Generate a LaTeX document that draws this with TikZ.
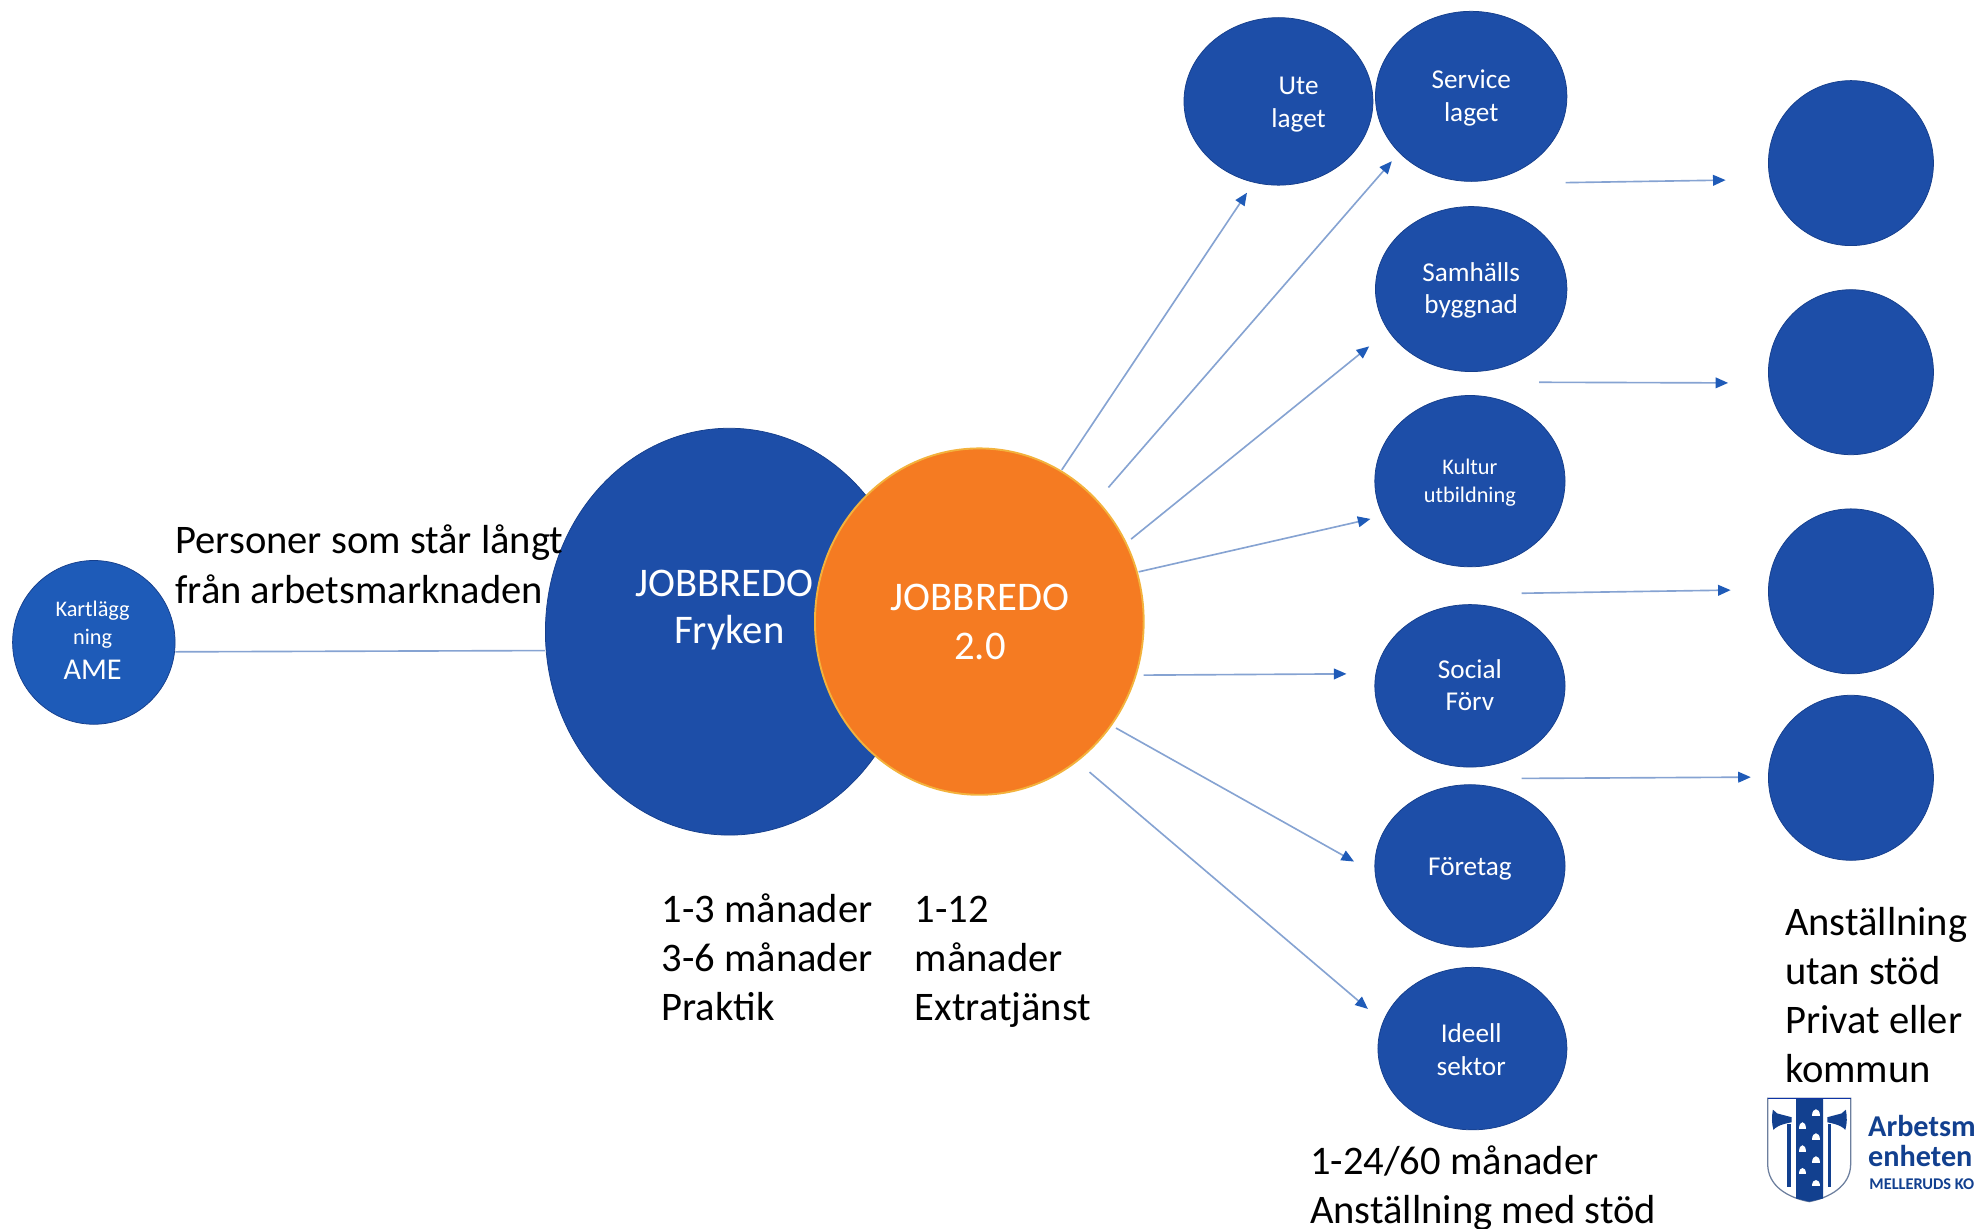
\documentclass[tikz,border=0pt]{standalone}
\usepackage{fontspec}
\setmainfont{Carlito}
\usetikzlibrary{arrows.meta,shapes.geometric}
\definecolor{blob}{HTML}{1D4EA8}
\definecolor{blobb}{HTML}{1E5BB8}
\definecolor{blobedge}{HTML}{163F8C}
\definecolor{orangeb}{HTML}{F57B22}
\definecolor{orangeedge}{HTML}{F3B23C}
\definecolor{linec}{HTML}{86A3D2}
\definecolor{tipc}{HTML}{1F5BB8}
\definecolor{logoc}{HTML}{12408F}
\tikzset{
  circ/.style={ellipse,fill=blob,draw=blobedge,line width=0.6pt,inner sep=0pt},
  ctext/.style={text=white,inner sep=0pt,align=center},
  big/.style={ctext,font=\fontsize{32.3}{39}\selectfont},
  mid/.style={ctext,font=\fontsize{21.6}{26}\selectfont},
  lab/.style={anchor=north west,inner sep=0pt,align=left,text=black,font=\fontsize{32.2}{39}\selectfont},
  line/.style={draw=linec,line width=1.3pt},
  conn/.style={line,-{Triangle[length=10pt,width=8.5pt,color=tipc]}},
  logotxt/.style={anchor=base west,inner sep=0pt,text=logoc,font=\bfseries\fontsize{24}{24}\selectfont},
}
\begin{document}
\begin{tikzpicture}[x=1pt,y=-1pt]
\useasboundingbox (0,0) rectangle (1568,975.7);
% main circles
\node[circ,fill=blobb,minimum width=129pt,minimum height=130pt] (ame) at (74.5,510) {};
\node[circ,minimum width=292pt,minimum height=323pt] (fry) at (579,501.5) {};
\node[circ,fill=orangeb,draw=orangeedge,line width=1.5pt,minimum width=261pt,minimum height=275pt] (jb) at (777.5,493.5) {};
\node[big] (jbt) at (778,494) {JOBBREDO\\2.0};
\node[big] (fryt1) at (575,463) {JOBBREDO};
\node[big] (fryt2) at (579,502) {Fryken};
\node[ctext,font=\fontsize{17.7}{22}\selectfont] (amet1) at (73.5,496) {Kartlägg\\ning};
\node[ctext,font=\fontsize{24}{26}\selectfont] (amet2) at (73.5,532) {AME};
% right column
\node[circ,minimum width=150pt,minimum height=133pt] (ute) at (1015,80.5) {};
\node[mid] (utet) at (1031,83) {Ute\\laget};
\node[circ,minimum width=152pt,minimum height=135pt] (serv) at (1168,76.5) {};
\node[mid] (servt) at (1168,77.5) {Service\\laget};
\node[circ,minimum width=152pt,minimum height=131pt] (sam) at (1168,229.5) {};
\node[mid] (samt) at (1168,230.5) {Samhälls\\byggnad};
\node[circ,minimum width=151pt,minimum height=136pt] (kul) at (1167,382) {};
\node[ctext,font=\fontsize{17.7}{22}\selectfont] (kult) at (1167,383) {Kultur\\utbildning};
\node[circ,minimum width=151pt,minimum height=129pt] (soc) at (1167,544.5) {};
\node[mid] (soct) at (1167,544) {Social\\Förv};
\node[circ,minimum width=151pt,minimum height=129pt] (for) at (1167,687.5) {};
\node[mid] (fort) at (1167,690) {Företag};
\node[circ,minimum width=150pt,minimum height=129pt] (ide) at (1169,832.5) {};
\node[mid] (idet) at (1168,833.5) {Ideell\\sektor};
% far right
\node[circ,minimum width=131pt,minimum height=131pt] (r1) at (1469.5,129.5) {};
\node[circ,minimum width=131pt,minimum height=131pt] (r2) at (1469.5,295.5) {};
\node[circ,minimum width=131pt,minimum height=131pt] (r3) at (1469.5,469.5) {};
\node[circ,minimum width=131pt,minimum height=131pt] (r4) at (1469.5,617.5) {};
% labels
\node[lab] (l1) at (139,416.8) {Personer som står långt\\från arbetsmarknaden};
\node[lab] (l2) at (525,709) {1-3 månader\\3-6 månader\\Praktik};
\node[lab] (l3) at (726,711) {1-12\\månader\\Extratjänst};
\node[lab] (l4) at (1417,720) {Anställning\\utan stöd\\Privat eller\\kommun};
\node[lab] (l5) at (1040,909.5) {1-24/60 månader\\Anställning med stöd};
% connectors
\draw[line] (ame.east |- 0,517.5) -- (fry.west |- 0,516.5);
\coordinate (a1s) at (843,373); \coordinate (a1e) at (990,153);
\coordinate (a2s) at (880,387); \coordinate (a2e) at (1105,128);
\coordinate (a3s) at (898,428); \coordinate (a3e) at (1087,275);
\coordinate (a4s) at (904,454); \coordinate (a4e) at (1088,412);
\coordinate (a5s) at (908,536); \coordinate (a5e) at (1069,535);
\coordinate (a6s) at (886,578); \coordinate (a6e) at (1075,684);
\coordinate (a7s) at (865,613); \coordinate (a7e) at (1086,801);
\coordinate (b1s) at (1243,145); \coordinate (b1e) at (1370,143);
\coordinate (b2s) at (1222,303.5); \coordinate (b2e) at (1372,304);
\coordinate (b3s) at (1208,471); \coordinate (b3e) at (1374,468.5);
\coordinate (b4s) at (1208,618); \coordinate (b4e) at (1390,617);
\foreach \n in {a1,a2,a3,a4,a5,a6,a7,b1,b2,b3,b4}{\draw[conn] (\n s) -- (\n e);}
% logo shield
\path[fill=white,draw=black!35!logoc!60!white,line width=1pt]
  (1403.4,872) -- (1469.3,872) -- (1469.3,924) .. controls (1469.3,942) and (1452,951) .. (1436.4,954) .. controls (1420,951) and (1403.4,942) .. (1403.4,924) -- cycle;
\fill[logoc] (1425.9,872) -- (1447.5,872) -- (1447.5,951.5) -- (1436.4,954) -- (1425.9,951.5) -- cycle;
\draw[logoc!80!blue,line width=1pt] (1403.4,872) -- (1469.3,872);
\fill[logoc] (1419,892) rectangle (1422,942);
\fill[logoc] (1451,892) rectangle (1454,942);
\fill[logoc] (1422.4,887) -- (1411,884) .. controls (1409.5,882.5) and (1408.5,882) .. (1407.5,881) .. controls (1406.5,887) and (1406.5,892) .. (1408,897) .. controls (1410,895) and (1412,893) .. (1422.4,891) -- cycle;
\fill[logoc] (1450.7,887) -- (1462,884) .. controls (1463.5,882.5) and (1464.5,882) .. (1465.5,881) .. controls (1466.5,887) and (1466.5,892) .. (1465,897) .. controls (1463,895) and (1461,893) .. (1450.7,891) -- cycle;
\foreach \bx/\by in {1431.1/893,1441.7/883,1441.7/901.9,1431.1/911.6,1441.7/920.4,1431.1/929.4,1441.7/938.9}{
  \fill[white] (\bx-3,\by+3) .. controls (\bx-3,\by-4) and (\bx+3,\by-4) .. (\bx+3,\by+3) -- cycle;
}
\node[logotxt] (lg1) at (1483,902.5) {Arbetsm};
\node[logotxt] (lg2) at (1483,926) {enheten};
\node[logotxt,font=\bfseries\fontsize{13}{13}\selectfont] (lg3) at (1484,944) {MELLERUDS KO};
\end{tikzpicture}
\end{document}
